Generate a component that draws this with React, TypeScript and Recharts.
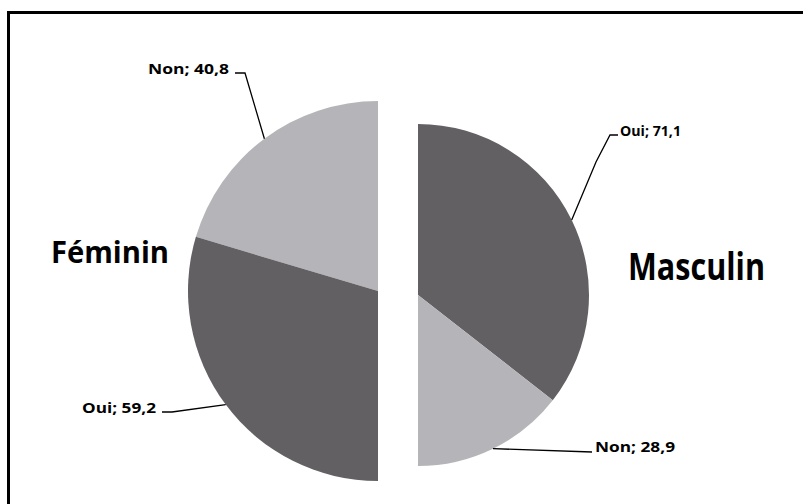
import { PieChart, Pie, Cell } from 'recharts';

// Répartition Oui / Non par sexe (demi-camemberts)
const femininNames = ['Non', 'Oui'];
const femininValues = [40.8, 59.2];
const masculinNames = ['Oui', 'Non'];
const masculinValues = [71.1, 28.9];
const groupTitles = ['Féminin', 'Masculin'];

const COLORS: Record<string, string> = { Oui: '#636064', Non: '#b5b4b8' };

const femininData = femininNames.map((name, i) => ({ name, value: femininValues[i] }));
const masculinData = masculinNames.map((name, i) => ({ name, value: masculinValues[i] }));

// placement des étiquettes (coude du trait + texte)
interface LabelPos {
  elbow: [number, number][];
  tx: number;
  ty: number;
  anchor: 'start' | 'end';
  len: number;
}

const femininLabels: LabelPos[] = [
  { elbow: [[245, 73], [235, 73]], tx: 229, ty: 74, anchor: 'end', len: 81 },
  { elbow: [[172, 412], [162, 412]], tx: 156, ty: 413, anchor: 'end', len: 74 },
];
const masculinLabels: LabelPos[] = [
  { elbow: [[596, 162], [610, 135], [618, 135]], tx: 620, ty: 136, anchor: 'start', len: 61 },
  { elbow: [[592, 452]], tx: 595, ty: 452, anchor: 'start', len: 80 },
];

const fmt = (v: number) => v.toFixed(1).replace('.', ',');

const makeLabel = (layout: LabelPos[]) => (props: any) => {
  const { cx, cy, midAngle, outerRadius, index, value } = props;
  const name = props.name ?? props.payload?.name;
  const RAD = Math.PI / 180;
  const sx = cx + outerRadius * Math.cos(-midAngle * RAD);
  const sy = cy + outerRadius * Math.sin(-midAngle * RAD);
  const l = layout[index];
  const pts = [[sx, sy], ...l.elbow].map((p) => p.join(',')).join(' ');
  return (
    <g key={`lbl-${index}`}>
      <polyline points={pts} fill="none" stroke="#000" strokeWidth={1.3} />
      <text
        x={l.tx}
        y={l.ty}
        textAnchor={l.anchor}
        fontFamily="'Open Sans', sans-serif"
        fontWeight={700}
        fontSize={14}
        fill="#000"
        textLength={l.len}
        lengthAdjust="spacingAndGlyphs"
      >
        {`${name}; ${fmt(value)}`}
      </text>
    </g>
  );
};

export default function App() {
  return (
    <div style={{ position: 'absolute', left: 0, top: 0, width: 803, height: 504, background: '#fff', overflow: 'hidden' }}>
      <div
        style={{
          position: 'absolute',
          left: 7,
          top: 11,
          width: 803,
          height: 504,
          borderLeft: '3px solid #000',
          borderTop: '3px solid #000',
        }}
      />
      <div style={{ position: 'absolute', left: 0, top: 0 }}>
        <PieChart width={803} height={504} margin={{ top: 0, right: 0, bottom: 0, left: 0 }}>
          <Pie
            data={femininData}
            dataKey="value"
            nameKey="name"
            cx={378}
            cy={291}
            outerRadius={190}
            startAngle={90}
            endAngle={270}
            stroke="none"
            labelLine={false}
            label={makeLabel(femininLabels)}
            isAnimationActive={false}
          >
            {femininData.map((d) => (
              <Cell key={`f-${d.name}`} fill={COLORS[d.name]} />
            ))}
          </Pie>
          <Pie
            data={masculinData}
            dataKey="value"
            nameKey="name"
            cx={418}
            cy={295}
            outerRadius={171}
            startAngle={90}
            endAngle={-90}
            stroke="none"
            labelLine={false}
            label={makeLabel(masculinLabels)}
            isAnimationActive={false}
          >
            {masculinData.map((d) => (
              <Cell key={`m-${d.name}`} fill={COLORS[d.name]} />
            ))}
          </Pie>
        </PieChart>
      </div>
      <svg width={803} height={504} style={{ position: 'absolute', left: 0, top: 0, pointerEvents: 'none' }}>
        <text
          x={51}
          y={263}
          fontFamily="'Open Sans', sans-serif"
          fontWeight={700}
          fontSize={31}
          textLength={118}
          lengthAdjust="spacingAndGlyphs"
          fill="#000"
        >
          {groupTitles[0]}
        </text>
        <text
          x={628}
          y={280}
          fontFamily="'Open Sans', sans-serif"
          fontWeight={700}
          fontSize={38}
          textLength={137}
          lengthAdjust="spacingAndGlyphs"
          fill="#000"
        >
          {groupTitles[1]}
        </text>
      </svg>
    </div>
  );
}
